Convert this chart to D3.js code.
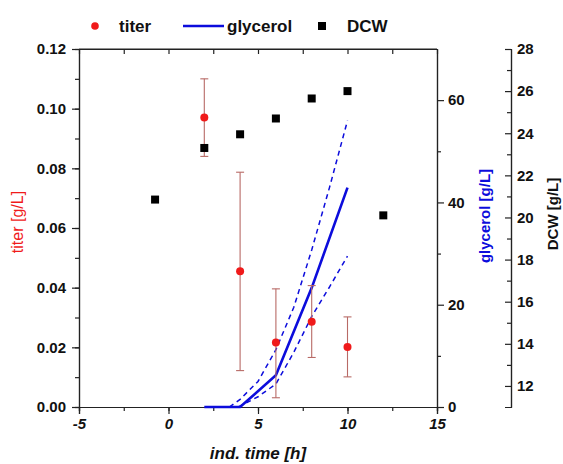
<!DOCTYPE html>
<html>
<head>
<meta charset="utf-8">
<script src="https://cdn.jsdelivr.net/npm/d3@7"></script>
<style>
  body { margin: 0; background: #fff; }
  svg text { font-family: "Liberation Sans", Arial, sans-serif; }
</style>
</head>
<body>
<div id="chart"></div>
<script>
// titer (red points with error bars)
const titerTime = [2, 4, 6, 8, 10];
const titer = [0.097, 0.0455, 0.0216, 0.0286, 0.0201];
const titerLow = [0.084, 0.0122, 0.0031, 0.0166, 0.0101];
const titerHigh = [0.110, 0.0787, 0.0396, 0.0407, 0.0302];

// DCW (black squares)
const dcwTime = [-0.75, 2, 4, 6, 8, 10, 12];
const dcw = [20.85, 23.3, 23.95, 24.7, 25.65, 26.0, 20.1];

// glycerol (solid line) and its band (dashed lines)
const glyTime = [2, 4, 6, 8, 10];
const glycerol = [0, 0, 6.2, 23.3, 42.9];
const glyUpTime = [3.4, 4, 5, 6, 7, 8, 9, 10];
const glyUp = [0, 1.5, 5, 11.2, 19.5, 30.7, 43, 56];
const glyLowTime = [3.9, 5, 6, 7, 8, 9, 10];
const glyLow = [0, 2, 4.5, 10.7, 17.7, 23.5, 29.5];

const xTicks = [-5, 0, 5, 10, 15];
const titerTicks = [0, 0.02, 0.04, 0.06, 0.08, 0.10, 0.12];
const glyTicks = [0, 20, 40, 60];
const dcwTicks = [12, 14, 16, 18, 20, 22, 24, 26, 28];

const W = 563, H = 464;
const plotL = 79, plotR = 437, plotT = 49, plotB = 407;

const svg = d3.select("#chart").append("svg")
    .attr("width", W)
    .attr("height", H);

const x = d3.scaleLinear().domain([-5, 15]).range([plotL, plotR]);
const yT = d3.scaleLinear().domain([0, 0.12]).range([plotB, plotT]);
const yG = d3.scaleLinear().domain([0, 70]).range([plotB, plotT]);
const yD = d3.scaleLinear().domain([11, 28]).range([plotB, plotT]);

const red = "#f01a1a", blue = "#0c0cdc", errCol = "#b86a66";

// axes helper: major ticks + minor ticks
function styleAxis(g) {
    g.select(".domain").attr("stroke", "#222").attr("stroke-width", 1.2);
    g.selectAll(".tick line").attr("stroke", "#222").attr("stroke-width", 1.2);
    g.selectAll("text").attr("fill", "#111")
        .style("font-size", "15px").style("font-weight", "bold");
}

// bottom axis
const xMinor = d3.range(-5, 15.1, 2.5);
svg.append("g").attr("transform", `translate(0,${plotB})`)
    .call(d3.axisBottom(x).tickValues(xMinor).tickSize(4).tickFormat(""))
    .call(styleAxis);
svg.append("g").attr("transform", `translate(0,${plotB})`)
    .call(d3.axisBottom(x).tickValues(xTicks).tickSize(7).tickPadding(4).tickFormat(d => String(d)))
    .call(styleAxis)
    .selectAll("text").style("font-style", "italic");

// top axis (ticks inside)
svg.append("g").attr("transform", `translate(0,${plotT})`)
    .call(d3.axisBottom(x).tickValues(xMinor).tickSizeInner(5).tickSizeOuter(0).tickFormat(""))
    .call(styleAxis);
svg.append("line").attr("x1", plotL).attr("x2", plotR).attr("y1", plotT).attr("y2", plotT)
    .attr("stroke", "#222").attr("stroke-width", 1.2);

// left axis (titer)
svg.append("g").attr("transform", `translate(${plotL},0)`)
    .call(d3.axisLeft(yT).tickValues(d3.range(0, 0.1201, 0.01)).tickSize(4).tickFormat(""))
    .call(styleAxis);
svg.append("g").attr("transform", `translate(${plotL},0)`)
    .call(d3.axisLeft(yT).tickValues(titerTicks).tickSize(7).tickPadding(6).tickFormat(d3.format(".2f")))
    .call(styleAxis);

// right axis (glycerol)
svg.append("g").attr("transform", `translate(${plotR},0)`)
    .call(d3.axisRight(yG).tickValues([10, 30, 50]).tickSize(4).tickSizeOuter(0).tickFormat(""))
    .call(styleAxis);
svg.append("g").attr("transform", `translate(${plotR},0)`)
    .call(d3.axisRight(yG).tickValues(glyTicks).tickSize(7).tickSizeOuter(0).tickPadding(4))
    .call(styleAxis);

// DCW axis (offset, ticks to the left, labels to the right)
const dcwX = 511;
svg.append("g").attr("transform", `translate(${dcwX},0)`)
    .call(d3.axisLeft(yD).tickValues(d3.range(13, 28, 2)).tickSize(4).tickSizeOuter(0).tickFormat(""))
    .call(styleAxis);
const gD = svg.append("g").attr("transform", `translate(${dcwX},0)`)
    .call(d3.axisLeft(yD).tickValues(dcwTicks).tickSize(6).tickSizeOuter(6))
    .call(styleAxis);
gD.selectAll("text").attr("x", 6).attr("text-anchor", "start");

// axis titles
svg.append("text").attr("x", (plotL + plotR) / 2).attr("y", 459)
    .attr("text-anchor", "middle")
    .style("font-size", "17px").style("font-weight", "bold").style("font-style", "italic")
    .attr("fill", "#111").text("ind. time [h]");

svg.append("text").attr("transform", `translate(23,222) rotate(-90)`)
    .attr("text-anchor", "middle").style("font-size", "16px")
    .attr("fill", red).text("titer [g/L]");

svg.append("text").attr("transform", `translate(490,216) rotate(-90)`)
    .attr("text-anchor", "middle").style("font-size", "15px").style("font-weight", "bold")
    .attr("fill", blue).text("glycerol [g/L]");

svg.append("text").attr("transform", `translate(558,214) rotate(-90)`)
    .attr("text-anchor", "middle").style("font-size", "15px").style("font-weight", "bold")
    .attr("fill", "#111").text("DCW [g/L]");

// glycerol lines
const line = d3.line().x(d => x(d[0])).y(d => yG(d[1]));
svg.append("path").datum(d3.zip(glyUpTime, glyUp))
    .attr("d", line).attr("fill", "none").attr("stroke", blue)
    .attr("stroke-width", 1.5).attr("stroke-dasharray", "5,4");
svg.append("path").datum(d3.zip(glyLowTime, glyLow))
    .attr("d", line).attr("fill", "none").attr("stroke", blue)
    .attr("stroke-width", 1.5).attr("stroke-dasharray", "5,4");
svg.append("path").datum(d3.zip(glyTime, glycerol))
    .attr("d", line).attr("fill", "none").attr("stroke", blue)
    .attr("stroke-width", 2.6);

// titer error bars
const tData = titerTime.map((t, i) => ({ t, v: titer[i], lo: titerLow[i], hi: titerHigh[i] }));
const eb = svg.append("g").attr("stroke", errCol).attr("stroke-width", 1.1);
eb.selectAll(".v").data(tData).enter().append("line")
    .attr("x1", d => x(d.t)).attr("x2", d => x(d.t))
    .attr("y1", d => yT(d.lo)).attr("y2", d => yT(d.hi));
eb.selectAll(".ch").data(tData).enter().append("line")
    .attr("x1", d => x(d.t) - 4).attr("x2", d => x(d.t) + 4)
    .attr("y1", d => yT(d.hi)).attr("y2", d => yT(d.hi));
eb.selectAll(".cl").data(tData).enter().append("line")
    .attr("x1", d => x(d.t) - 4).attr("x2", d => x(d.t) + 4)
    .attr("y1", d => yT(d.lo)).attr("y2", d => yT(d.lo));

// DCW squares
const sq = 8;
svg.selectAll(".dcw").data(d3.zip(dcwTime, dcw)).enter().append("rect")
    .attr("x", d => x(d[0]) - sq / 2).attr("y", d => yD(d[1]) - sq / 2)
    .attr("width", sq).attr("height", sq).attr("fill", "#000");

// titer points
svg.selectAll(".titer").data(tData).enter().append("circle")
    .attr("cx", d => x(d.t)).attr("cy", d => yT(d.v)).attr("r", 4)
    .attr("fill", red);

// legend
const lg = svg.append("g").style("font-size", "17px").style("font-weight", "bold").attr("fill", "#111");
lg.append("circle").attr("cx", 95).attr("cy", 26).attr("r", 3.8).attr("fill", red);
lg.append("text").attr("x", 119).attr("y", 32).text("titer");
lg.append("line").attr("x1", 183).attr("x2", 224).attr("y1", 26).attr("y2", 26)
    .attr("stroke", blue).attr("stroke-width", 2.4);
lg.append("text").attr("x", 227).attr("y", 32).text("glycerol");
lg.append("rect").attr("x", 318).attr("y", 22).attr("width", 8).attr("height", 8).attr("fill", "#000");
lg.append("text").attr("x", 347).attr("y", 32).text("DCW");
</script>
</body>
</html>
